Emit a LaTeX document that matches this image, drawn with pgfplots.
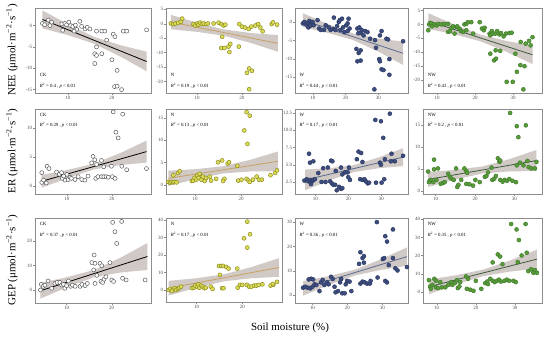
\documentclass[border=0pt]{standalone}
\usepackage{fontspec}
\setmainfont{Liberation Serif}
\usepackage{pgfplots}
\pgfplotsset{compat=1.18}
\definecolor{bandc}{RGB}{200,192,188}
\definecolor{framec}{RGB}{140,140,140}
\definecolor{tickc}{RGB}{80,80,80}
\definecolor{ckd}{RGB}{90,90,90}
\definecolor{nf}{RGB}{220,220,90}
\definecolor{nd}{RGB}{140,140,30}
\definecolor{nl}{RGB}{200,160,96}
\definecolor{wf}{RGB}{61,77,125}
\definecolor{wd}{RGB}{44,58,102}
\definecolor{wl}{RGB}{90,106,144}
\definecolor{nwf}{RGB}{90,155,60}
\definecolor{nwd}{RGB}{63,125,42}
\definecolor{nwl}{RGB}{60,92,60}
\tikzset{anno/.style={anchor=west, font=\fontsize{4.8}{5}\selectfont, inner sep=0pt}}
\pgfplotsset{
  panel/.style={scale only axis, anchor=north west,
    axis line style={framec, line width=0.6bp},
    tick style={framec, line width=0.4bp},
    tick align=outside, major tick length=1.6bp,
    xtick pos=lower, ytick pos=left,
    ticklabel style={font=\fontsize{5}{5}\selectfont, text=tickc, inner sep=1bp},
    /pgf/number format/assume math mode=true,
    clip=true},
  band/.style={fill=bandc, draw=none, opacity=0.85},
  ck/.style={only marks, mark=*, mark size=2.0bp, mark options={draw=ckd, fill=white, line width=0.5bp}},
  nn/.style={only marks, mark=*, mark size=2.0bp, mark options={draw=nd, fill=nf, line width=0.5bp}},
  ww/.style={only marks, mark=*, mark size=2.0bp, mark options={draw=wd, fill=wf, line width=0.5bp}},
  nw/.style={only marks, mark=*, mark size=2.0bp, mark options={draw=nwd, fill=nwf, line width=0.5bp}},
}
\begin{document}
\begin{tikzpicture}
\useasboundingbox (0,0) rectangle (550bp,-340bp);
% ================= Row 1: NEE =================
\begin{axis}[panel, at={(35bp,-8.5bp)}, width=116bp, height=84.5bp,
  xmin=2.5, xmax=28.9, ymin=-15.8, ymax=4.0, xtick={10,20}, ytick={-15,-10,-5,0}]
\addplot[band] coordinates {(4.2,3.54) (10.1,0.25) (16.05,-2.69) (22.0,-4.62) (27.9,-6.12) (27.9,-10.72) (22.0,-7.30) (16.05,-4.29) (10.1,-2.27) (4.2,-0.66)} --cycle;
\addplot[ck] coordinates {(4.2,0.5) (4.7,0.2) (5.5,1.3) (5.9,0) (6.3,0.8) (8.6,0.4) (9.3,0.5) (9.7,0.2) (8.8,-1.1) (10.2,0.8) (10.6,0) (11.1,-0.2) (11.7,0.1) (12.7,1.0) (13.1,-0.2) (13.9,-0.8) (14.4,-0.4) (15.0,-0.8) (16.5,-1.3) (17.7,-1.3) (18.4,-1.3) (20.3,-2.0) (20.7,-2.6) (22.6,-1.3) (23.4,-1.3) (18.8,-3.4) (16.5,-5.0) (16.1,-6.6) (16.5,-7.0) (17.7,-6.6) (16.1,-8.9) (20.0,-8.0) (21.2,-10.5) (20.6,-14.3) (21.2,-14.2) (22.2,-15.0) (27.9,-1.0) (12.0,-0.9) (11.4,-1.3)};
\addplot[black, line width=0.8bp] coordinates {(4.2,1.44) (27.9,-8.42)};
\node[anno] at (rel axis cs:0.04,0.21) {CK};
\node[anno] at (rel axis cs:0.04,0.08) {\textit{R}\textsuperscript{2} = 0.4 , \textit{p} < 0.01};
\end{axis}
\begin{axis}[panel, at={(166bp,-8.5bp)}, width=116bp, height=84.5bp,
  xmin=3.1, xmax=28.9, ymin=-24, ymax=5.3, xtick={10,20}, ytick={-20,-15,-10,-5,0,5}]
\addplot[band] coordinates {(4.2,3.1) (10.15,0.32) (16.1,-2.0) (22.05,-3.22) (28,-3.9) (28,-9.7) (22.05,-6.68) (16.1,-4.2) (10.15,-2.82) (4.2,-1.9)} --cycle;
\addplot[nn] coordinates {(4.2,0.1) (4.7,-0.1) (5.2,0.1) (5.8,0.3) (6.4,0.7) (6.7,1.8) (9.2,-0.1) (9.6,-0.6) (10.0,0.1) (10.3,-0.3) (10.7,0.4) (11.1,-0.1) (11.5,0.1) (12.0,-0.1) (12.4,0.1) (13.7,0.1) (14.8,0.4) (15.4,-0.1) (15.9,-0.6) (16.3,-0.3) (15.6,-4.5) (15.4,-8.4) (16.1,-8.4) (17.0,-7.9) (17.4,-7.0) (17.2,-9.8) (19.3,-7.9) (19.4,-0.1) (20.0,-1.0) (20.7,-1.3) (21.5,-1.8) (22.1,-1.0) (23.0,-0.6) (23.6,-0.1) (24.1,-1.3) (24.6,-2.6) (26.6,-0.1) (21.1,-17.0) (21.6,-15.5) (22.2,-16.3) (21.6,-22.7) (26.9,0.5) (27.8,-0.3)};
\addplot[nl, line width=0.8bp] coordinates {(4.2,0.6) (28,-6.8)};
\node[anno] at (rel axis cs:0.04,0.21) {N};
\node[anno] at (rel axis cs:0.04,0.08) {\textit{R}\textsuperscript{2} = 0.19 , \textit{p} < 0.01};
\end{axis}
\begin{axis}[panel, at={(295bp,-8.5bp)}, width=113bp, height=84.5bp,
  xmin=4.5, xmax=39.1, ymin=-19.4, ymax=3.8, xtick={10,20,30}, ytick={-15,-10,-5,0}]
\addplot[band] coordinates {(6.9,2.5) (14.58,-0.44) (22.25,-3.04) (29.93,-4.44) (37.6,-5.3) (37.6,-11.7) (29.93,-8.0) (22.25,-4.84) (14.58,-2.9) (6.9,-1.3)} --cycle;
\addplot[ww] coordinates {(6.9,-0.3) (7.4,0.1) (7.9,-0.6) (8.4,-0.1) (8.9,0.4) (9.4,-0.3) (9.9,0.1) (8.6,-1.4) (9.2,-0.9) (10.2,-0.8) (11.4,0.6) (11.9,-1.7) (12.4,-2.1) (13.4,-2.1) (13.9,-0.8) (14.9,-1.4) (15.4,-2.1) (16.2,-1.8) (16.4,1.3) (16.9,-2.1) (17.4,-1.0) (17.9,0.1) (18.2,0.6) (18.9,1.0) (18.4,-2.1) (19.2,-1.4) (19.6,-2.7) (20.2,-0.8) (20.6,-0.3) (20.9,1.0) (21.2,-1.7) (20.6,-2.4) (23.6,-1.7) (24.2,-1.4) (24.6,-2.9) (23.9,-3.0) (24.9,-2.1) (25.5,-3.6) (26.0,-2.4) (26.7,-2.7) (27.5,-4.5) (29.0,-4.9) (30.5,-3.6) (31.0,-2.4) (32.5,-4.5) (33.0,-4.7) (37.6,-5.2) (23.3,-7.3) (24.0,-8.4) (24.6,-7.7) (23.6,-10.7) (24.6,-10.5) (29.3,-7.0) (30.3,-10.1) (30.5,-10.7) (31.0,-12.9) (31.6,-13.1) (33.4,-14.4) (33.4,-10.1) (28.8,-18.4)};
\addplot[wl, line width=0.8bp] coordinates {(6.9,0.6) (37.6,-8.5)};
\node[anno] at (rel axis cs:0.04,0.21) {W};
\node[anno] at (rel axis cs:0.04,0.08) {\textit{R}\textsuperscript{2} = 0.44 , \textit{p} < 0.01};
\end{axis}
\begin{axis}[panel, at={(423bp,-8.5bp)}, width=119bp, height=84.5bp,
  xmin=6.3, xmax=37.6, ymin=-24.6, ymax=5.7, xtick={10,20,30}, ytick={-20,-15,-10,-5,0,5}]
\addplot[band] coordinates {(7.7,4.0) (14.55,-0.09) (21.4,-3.65) (28.25,-5.93) (35.1,-7.6) (35.1,-14.2) (28.25,-9.83) (21.4,-6.05) (14.55,-3.57) (7.7,-1.6)} --cycle;
\addplot[nw] coordinates {(7.7,-2.1) (7.9,0.0) (8.4,0.5) (8.7,-0.7) (9.3,0) (9.9,-0.4) (10.3,0.2) (11.2,0) (11.9,0.2) (12.9,-2.7) (13.4,-2.4) (12.9,0.2) (13.8,-1.2) (14.2,-0.7) (14.6,-3.3) (15.1,-0.9) (15.3,-0.7) (15.9,-1.5) (16.3,-2.4) (16.8,-2.7) (17.2,0) (17.7,0.2) (17.7,-2.1) (18.1,0.8) (19.0,0.8) (19.5,-3.3) (21.2,0.8) (21.8,-1.5) (22.3,-2.1) (22.5,-1.2) (23.8,-3.3) (24.0,-3.9) (24.4,-2.4) (24.6,-3.3) (25.3,-3.3) (25.8,-2.4) (26.4,-3.6) (26.8,-3.1) (27.5,-4.3) (28.1,-3.3) (29.0,-3.1) (29.6,-3.0) (32.0,-6.3) (33.3,-6.9) (34.2,-5.9) (34.6,-7.5) (35.1,-4.6) (24.0,-10.5) (25.4,-9.3) (26.6,-9.5) (25.0,-12.9) (25.5,-12.3) (30.6,-10.5) (31.0,-17.0) (31.9,-14.6) (33.0,-15.0) (28.3,-20.6) (29.9,-20.6) (32.7,-23.3)};
\addplot[nwl, line width=0.8bp] coordinates {(7.7,1.2) (35.1,-10.9)};
\node[anno] at (rel axis cs:0.04,0.21) {NW};
\node[anno] at (rel axis cs:0.04,0.08) {\textit{R}\textsuperscript{2} = 0.43 , \textit{p} < 0.01};
\end{axis}
% ================= Row 2: ER =================
\begin{axis}[panel, at={(35bp,-109bp)}, width=116bp, height=85bp,
  xmin=2.9, xmax=28.7, ymin=-1.4, ymax=13.3, xtick={10,20}, ytick={0,5,10}]
\addplot[band] coordinates {(4.4,1.9) (10.23,2.78) (16.05,3.86) (21.88,5.69) (27.7,7.83) (27.7,4.03) (21.88,3.61) (16.05,2.86) (10.23,1.38) (4.4,-0.3)} --cycle;
\addplot[ck] coordinates {(4.4,0.6) (4.4,2.3) (4.8,1.0) (5.4,0.5) (5.6,3.4) (6.0,3.0) (7.7,2.4) (8.3,2.0) (8.8,2.3) (9.0,1.3) (9.3,1.7) (9.6,1.0) (10.0,2.0) (10.3,1.1) (10.7,1.5) (11.0,1.3) (11.8,1.1) (12.5,1.6) (13.3,1.1) (14.0,1.0) (14.7,1.7) (15.5,4.0) (15.8,5.1) (16.2,4.5) (16.6,3.7) (16.4,1.3) (16.9,1.6) (17.7,4.4) (17.7,1.6) (18.2,1.6) (18.7,1.6) (19.2,1.5) (19.9,3.4) (20.1,1.6) (20.7,1.3) (18.2,3.3) (20.3,12.8) (22.4,12.4) (20.9,9.3) (21.4,8.3) (22.2,3.4) (23.3,2.8) (27.7,3.0)};
\addplot[black, line width=0.8bp] coordinates {(4.4,0.8) (27.7,5.93)};
\node[anno] at (rel axis cs:0.04,0.93) {CK};
\node[anno] at (rel axis cs:0.04,0.81) {\textit{R}\textsuperscript{2} = 0.29 , \textit{p} < 0.01};
\end{axis}
\begin{axis}[panel, at={(166bp,-109bp)}, width=116bp, height=85bp,
  xmin=3.7, xmax=28.9, ymin=-2.0, ymax=17.0, xtick={10,20}, ytick={0,5,10,15}]
\addplot[band] coordinates {(4.2,3.2) (10.15,3.55) (16.1,4.2) (22.05,5.65) (28,7.5) (28,3.1) (22.05,3.05) (16.1,2.6) (10.15,1.35) (4.2,-0.2)} --cycle;
\addplot[nn] coordinates {(4.2,0.7) (4.6,0.5) (4.9,0.7) (5.3,0.6) (5.6,0.7) (6.0,0.6) (5.3,2.2) (6.3,2.7) (6.7,3.1) (9.3,0.9) (9.6,1.0) (9.9,1.6) (10.3,1.2) (10.5,2.2) (10.8,1.6) (11.0,2.5) (11.4,1.2) (11.7,1.9) (12.1,0.9) (12.4,1.6) (13.2,1.9) (13.5,1.0) (14.6,1.4) (15.0,5.1) (15.9,5.5) (16.4,1.4) (16.1,0.9) (17.1,4.8) (17.4,5.1) (19.2,4.3) (19.4,1.0) (20.1,1.2) (20.7,12.2) (21.2,16.3) (21.9,15.5) (21.4,9.2) (21.2,1.4) (21.6,1.0) (21.9,0.7) (22.6,1.2) (23.4,1.9) (23.9,1.2) (24.5,1.2) (26.4,2.2) (27.4,2.7) (27.8,3.3)};
\addplot[nl, line width=0.8bp] coordinates {(4.2,1.5) (28,5.3)};
\node[anno] at (rel axis cs:0.04,0.93) {N};
\node[anno] at (rel axis cs:0.04,0.81) {\textit{R}\textsuperscript{2} = 0.13 , \textit{p} < 0.01};
\end{axis}
\begin{axis}[panel, at={(295bp,-109bp)}, width=113bp, height=85bp,
  xmin=3.85, xmax=38.1, ymin=0.76, ymax=13.08, xtick={10,20,30}, ytick={2.5,5,7.5,10,12.5},
  yticklabel style={/pgf/number format/.cd, fixed, fixed zerofill, precision=1}]
\addplot[band] coordinates {(6.9,4.3) (14.33,4.5) (21.75,4.95) (29.18,6.06) (36.6,7.4) (36.6,4.8) (29.18,4.5) (21.75,3.95) (14.33,2.76) (6.9,1.3)} --cycle;
\addplot[ww] coordinates {(6.7,2.7) (7.4,2.9) (7.9,2.6) (8.4,2.8) (8.7,2.2) (9.1,2.6) (9.4,2.8) (9.9,2.9) (8.1,6.6) (8.4,5.3) (9.4,5.5) (10.9,3.8) (11.9,2.5) (12.4,4.5) (13.1,2.5) (13.8,4.6) (14.8,5.6) (15.2,5.5) (14.5,2.6) (15.0,2.3) (15.5,2.1) (16.0,2.1) (16.5,1.3) (17.2,1.8) (17.8,1.5) (18.2,1.6) (16.2,4.1) (17.8,4.6) (18.2,3.6) (19.0,3.9) (19.8,3.9) (20.2,4.6) (20.0,3.2) (20.5,2.8) (22.6,5.8) (23.1,6.9) (23.9,6.7) (24.3,5.4) (23.6,2.9) (24.3,2.8) (24.9,2.9) (25.3,2.6) (25.9,2.3) (26.3,2.4) (28.2,11.5) (28.4,2.4) (29.9,11.3) (30.6,8.9) (29.6,5.3) (29.9,5.0) (30.9,2.9) (31.1,5.8) (32.6,12.4) (33.1,6.6) (32.9,5.5) (34.1,5.5) (36.6,6.3) (30.1,2.4)};
\addplot[wl, line width=0.8bp] coordinates {(6.9,2.8) (36.6,6.1)};
\node[anno] at (rel axis cs:0.04,0.93) {W};
\node[anno] at (rel axis cs:0.04,0.81) {\textit{R}\textsuperscript{2} = 0.17 , \textit{p} < 0.01};
\end{axis}
\begin{axis}[panel, at={(423bp,-109bp)}, width=119bp, height=85bp,
  xmin=6.8, xmax=37.0, ymin=-0.7, ymax=18.6, xtick={10,20,30}, ytick={0,5,10,15}]
\addplot[band] coordinates {(8.1,4.3) (14.98,4.78) (21.85,5.55) (28.73,7.22) (35.6,9.3) (35.6,4.5) (28.73,4.44) (21.85,3.95) (14.98,2.58) (8.1,0.9)} --cycle;
\addplot[nw] coordinates {(8.1,4.4) (8.3,2.0) (8.8,2.5) (9.4,2.0) (9.6,7.1) (9.6,4.9) (10.2,2.5) (10.6,5.1) (11.3,1.6) (11.9,1.8) (12.3,2.0) (13.2,3.9) (13.6,3.2) (14.0,2.8) (14.6,2.5) (15.2,5.1) (15.5,0.9) (15.8,1.4) (16.5,2.5) (17.3,5.1) (17.8,4.5) (18.0,4.1) (17.8,1.6) (18.6,1.5) (19.5,1.2) (20.1,2.5) (21.2,2.0) (22.5,3.2) (22.9,3.4) (23.3,4.2) (24.2,5.3) (24.4,2.5) (24.9,2.8) (25.3,3.4) (25.8,7.4) (26.2,6.6) (26.4,6.9) (26.4,2.5) (27.0,2.1) (27.5,2.5) (28.1,2.3) (28.7,2.7) (29.5,2.3) (30.4,2.0) (28.9,17.7) (30.6,14.7) (31.0,12.2) (32.9,14.9) (30.6,5.8) (31.4,6.4) (32.3,5.8) (33.3,6.8) (33.6,5.4) (34.3,5.1) (35.2,5.1) (35.6,6.6)};
\addplot[nwl, line width=0.8bp] coordinates {(8.1,2.6) (35.6,6.9)};
\node[anno] at (rel axis cs:0.04,0.93) {NW};
\node[anno] at (rel axis cs:0.04,0.81) {\textit{R}\textsuperscript{2} = 0.2 , \textit{p} < 0.01};
\end{axis}
% ================= Row 3: GEP =================
\begin{axis}[panel, at={(35bp,-218bp)}, width=116bp, height=85bp,
  xmin=3.0, xmax=28.7, ymin=-5.3, ymax=29.4, xtick={10,20}, ytick={0,10,20}]
\addplot[band] coordinates {(4.2,2.9) (10.13,5.26) (16.05,8.19) (21.98,13.23) (27.9,19.18) (27.9,8.18) (21.98,7.15) (16.05,5.19) (10.13,1.14) (4.2,-3.5)} --cycle;
\addplot[ck] coordinates {(4.2,0) (4.4,2.3) (4.8,1.5) (5.2,2.0) (5.9,3.7) (6.7,0.7) (7.4,2.7) (7.9,3.1) (8.5,3.1) (8.9,2.0) (9.3,2.3) (9.6,0.7) (10.0,1.8) (10.4,3.7) (10.9,1.5) (11.3,2.0) (11.9,1.5) (13.0,1.5) (13.4,2.3) (14.1,1.8) (14.6,2.7) (15.6,11.2) (16.1,14.3) (16.3,10.9) (16.0,8.2) (16.7,6.0) (16.3,2.7) (17.4,10.9) (17.8,9.9) (17.6,3.5) (18.0,3.1) (18.3,4.4) (18.7,5.4) (19.6,11.2) (20.0,4.1) (20.4,3.5) (20.2,27.6) (20.7,23.8) (21.1,19.0) (22.2,28.0) (22.4,4.8) (23.2,4.1) (27.4,4.1)};
\addplot[black, line width=0.8bp] coordinates {(4.2,-0.3) (27.9,13.68)};
\node[anno] at (rel axis cs:0.04,0.93) {CK};
\node[anno] at (rel axis cs:0.04,0.80) {\textit{R}\textsuperscript{2} = 0.37 , \textit{p} < 0.01};
\end{axis}
\begin{axis}[panel, at={(166bp,-218bp)}, width=116bp, height=84bp,
  xmin=3.3, xmax=28.7, ymin=-6.9, ymax=41.1, xtick={10,20}, ytick={0,10,20,30,40}]
\addplot[band] coordinates {(3.9,5.2) (9.93,6.67) (15.95,8.9) (21.98,13.03) (28,18.11) (28,7.51) (21.98,6.69) (15.95,4.9) (9.93,1.23) (3.9,-3.2)} --cycle;
\addplot[nn] coordinates {(3.9,0) (4.3,0.6) (4.8,0) (5.2,1.0) (5.5,0) (5.9,0.6) (6.2,1.3) (6.6,1.9) (4.6,-0.6) (9.0,1.0) (9.4,1.3) (9.7,2.5) (10.1,1.9) (10.4,3.2) (10.6,1.3) (11.0,2.5) (11.3,1.9) (11.7,1.0) (12.0,1.3) (13.1,1.9) (13.5,0.6) (14.9,13.7) (15.4,13.7) (15.8,13.7) (16.5,13.1) (17.0,12.2) (15.1,8.6) (15.6,1.0) (15.9,1.0) (18.9,12.2) (19.0,1.3) (19.5,2.9) (20.0,2.9) (21.1,39.0) (21.7,31.8) (20.4,29.5) (21.1,24.2) (21.0,2.9) (21.5,1.9) (22.0,1.9) (22.6,2.5) (23.1,2.5) (23.6,2.9) (24.4,3.2) (26.2,2.5) (26.8,2.9) (26.7,3.4) (27.6,4.6)};
\addplot[nl, line width=0.8bp] coordinates {(3.9,1.0) (28,12.81)};
\node[anno] at (rel axis cs:0.04,0.93) {N};
\node[anno] at (rel axis cs:0.04,0.80) {\textit{R}\textsuperscript{2} = 0.17 , \textit{p} < 0.01};
\end{axis}
\begin{axis}[panel, at={(295bp,-218bp)}, width=113bp, height=85bp,
  xmin=5.0, xmax=37.3, ymin=-3.3, ymax=31.7, xtick={10,20,30}, ytick={0,10,20,30}]
\addplot[band] coordinates {(7.3,5.7) (14.73,7.8) (22.15,10.45) (29.58,14.7) (37,19.6) (37,12.0) (29.58,10.36) (22.15,8.05) (14.73,4.16) (7.3,-0.3)} --cycle;
\addplot[ww] coordinates {(7.3,3.0) (7.9,3.4) (8.6,3.0) (8.9,6.4) (9.6,6.7) (10.2,6.4) (9.4,2.7) (10.0,3.4) (10.6,4.4) (11.1,4.1) (12.0,1.6) (12.4,5.2) (12.9,6.2) (13.4,4.1) (14.1,5.2) (14.6,4.4) (15.3,7.5) (15.8,6.6) (16.3,3.4) (16.6,1.1) (17.3,1.6) (17.9,5.2) (18.2,6.6) (18.5,0.7) (19.2,0.7) (19.5,4.4) (19.9,5.8) (20.6,5.5) (21.1,1.6) (23.3,12.8) (23.7,17.6) (24.3,15.2) (24.7,16.0) (24.7,13.3) (23.7,4.7) (24.3,5.5) (24.9,5.2) (25.6,4.7) (26.4,4.7) (26.6,5.8) (28.6,7.2) (28.4,30.0) (30.1,14.8) (30.5,15.2) (30.8,24.2) (31.3,22.0) (30.8,5.8) (31.3,5.2) (33.0,27.0) (31.8,12.3) (33.0,15.2) (33.7,11.0) (34.3,10.1) (37.0,11.5)};
\addplot[wl, line width=0.8bp] coordinates {(7.3,2.7) (37,15.8)};
\node[anno] at (rel axis cs:0.04,0.93) {W};
\node[anno] at (rel axis cs:0.04,0.80) {\textit{R}\textsuperscript{2} = 0.36 , \textit{p} < 0.01};
\end{axis}
\begin{axis}[panel, at={(423bp,-218bp)}, width=119bp, height=85bp,
  xmin=6.5, xmax=36.9, ymin=-6.0, ymax=40.7, xtick={10,20,30}, ytick={0,10,20,30,40}]
\addplot[band] coordinates {(8.0,6.9) (14.9,9.24) (21.8,12.3) (28.7,17.33) (35.6,23.3) (35.6,12.9) (28.7,11.27) (21.8,8.7) (14.9,4.16) (8.0,-1.1)} --cycle;
\addplot[nw] coordinates {(8.0,6.6) (8.3,3.0) (8.5,1.8) (8.9,4.0) (9.4,7.3) (9.8,6.2) (9.8,2.6) (10.3,2.2) (10.9,5.5) (11.3,2.6) (12.2,2.6) (13.0,4.0) (13.7,5.5) (14.0,4.0) (14.6,4.9) (15.2,6.6) (15.4,2.2) (15.8,3.1) (16.0,5.5) (17.5,8.6) (18.0,7.3) (17.7,1.8) (18.6,1.3) (19.4,0.7) (20.0,6.2) (21.4,1.8) (22.4,4.9) (22.9,5.8) (23.1,4.4) (23.7,7.3) (24.3,6.2) (24.3,16.3) (24.8,5.5) (25.4,6.2) (25.6,20.7) (26.2,19.5) (25.9,6.8) (26.4,5.8) (26.8,15.3) (27.3,6.2) (27.9,6.8) (28.5,6.2) (29.0,37.4) (29.6,6.2) (30.2,5.5) (30.4,34.4) (31.0,28.6) (30.7,16.5) (31.7,20.1) (32.7,37.4) (33.0,21.6) (33.4,11.5) (34.1,12.5) (34.7,10.6) (35.1,12.1) (35.6,10.6)};
\addplot[nwl, line width=0.8bp] coordinates {(8.0,2.9) (35.6,18.1)};
\node[anno] at (rel axis cs:0.04,0.93) {NW};
\node[anno] at (rel axis cs:0.04,0.80) {\textit{R}\textsuperscript{2} = 0.35 , \textit{p} < 0.01};
\end{axis}
% ================= Labels =================
\node[rotate=90, font=\fontsize{11}{12}\selectfont] at (12bp,-50bp) {NEE (μmol·m\textsuperscript{−2}·s\textsuperscript{−1})};
\node[rotate=90, font=\fontsize{11}{12}\selectfont] at (12bp,-151bp) {ER (μmol·m\textsuperscript{−2}·s\textsuperscript{−1})};
\node[rotate=90, font=\fontsize{11}{12}\selectfont] at (12bp,-260bp) {GEP (μmol·m\textsuperscript{−2}·s\textsuperscript{−1})};
\node[font=\fontsize{11}{12}\selectfont] at (290bp,-328bp) {Soil moisture (\%)};
\end{tikzpicture}
\end{document}
